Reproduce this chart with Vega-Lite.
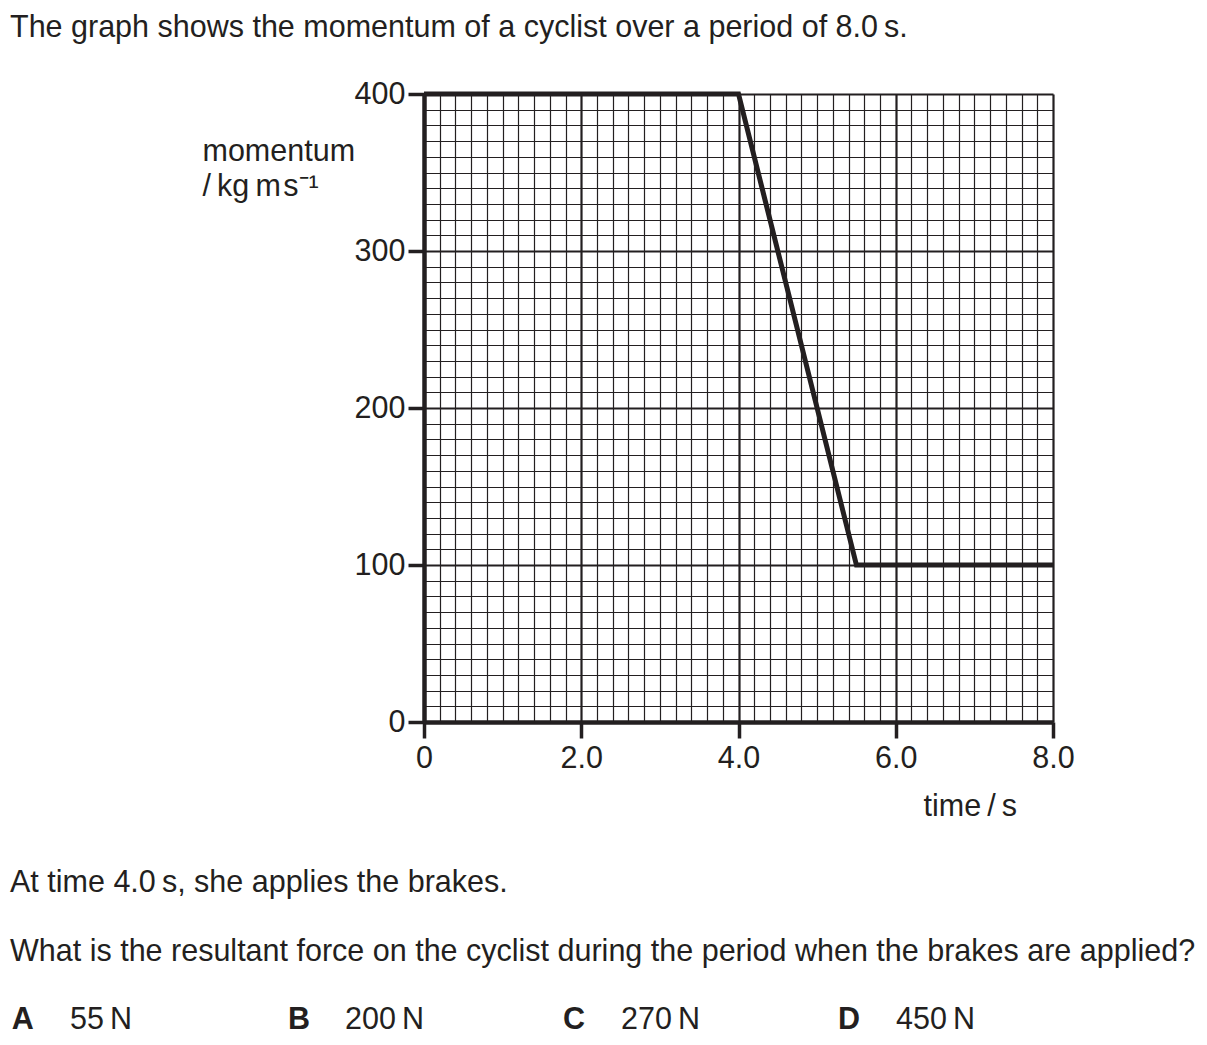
{
  "$schema": "https://vega.github.io/schema/vega-lite/v6.json",
  "autosize": "none",
  "width": 629,
  "height": 628,
  "padding": {"left": 424, "top": 94, "right": 154, "bottom": 323},
  "background": "white",
  "config": {
    "font": "Liberation Sans",
    "view": {"stroke": null},
    "text": {"font": "Liberation Sans", "fontSize": 30.5, "color": "#231f20"}
  },
  "layer": [
    {
      "data": {"values": [
        {"time": 0, "momentum": 400},
        {"time": 4.0, "momentum": 400},
        {"time": 5.5, "momentum": 100},
        {"time": 8.0, "momentum": 100}
      ]},
      "mark": {"type": "line", "color": "#231f20", "strokeWidth": 5, "strokeJoin": "miter", "clip": false},
      "encoding": {
        "x": {
          "field": "time", "type": "quantitative",
          "scale": {"domain": [0, 8], "nice": false, "zero": false},
          "axis": {
            "values": [0,0.2,0.4,0.6,0.8,1,1.2,1.4,1.6,1.8,2,2.2,2.4,2.6,2.8,3,3.2,3.4,3.6,3.8,4,4.2,4.4,4.6,4.8,5,5.2,5.4,5.6,5.8,6,6.2,6.4,6.6,6.8,7,7.2,7.4,7.6,7.8,8],
            "tickCount": 100,
            "labelExpr": "(datum.value % 2 === 0) ? (datum.value === 0 ? '0' : format(datum.value, '.1f')) : ''",
            "grid": true,
            "gridColor": "#231f20",
            "gridOpacity": 1,
            "gridWidth": {"condition": {"test": "datum.value % 2 === 0", "value": 2.2}, "value": 1.2},
            "tickColor": "#231f20",
            "tickSize": 16,
            "tickWidth": 3.5,
            "tickOpacity": {"condition": {"test": "datum.value % 2 === 0", "value": 1}, "value": 0},
            "domainColor": "#231f20",
            "domainWidth": 4.5,
            "labelFont": "Liberation Sans",
            "labelFontSize": 30.5,
            "labelColor": "#231f20",
            "labelPadding": 5,
            "labelFlush": false,
            "labelOverlap": false,
            "title": "time\u2009/\u2009s",
            "titleFont": "Liberation Sans",
            "titleFontSize": 30.5,
            "titleFontWeight": "normal",
            "titleColor": "#231f20",
            "titleAlign": "left",
            "titleBaseline": "alphabetic",
            "titleAnchor": null,
            "titleX": 499,
            "titleY": 93
          }
        },
        "y": {
          "field": "momentum", "type": "quantitative",
          "scale": {"domain": [0, 400], "nice": false},
          "axis": {
            "values": [0,10,20,30,40,50,60,70,80,90,100,110,120,130,140,150,160,170,180,190,200,210,220,230,240,250,260,270,280,290,300,310,320,330,340,350,360,370,380,390,400],
            "tickCount": 100,
            "labelExpr": "(datum.value % 100 === 0) ? format(datum.value, 'd') : ''",
            "grid": true,
            "gridColor": "#231f20",
            "gridOpacity": 1,
            "gridWidth": {"condition": {"test": "datum.value % 100 === 0", "value": 2.2}, "value": 1.2},
            "tickColor": "#231f20",
            "tickSize": 16,
            "tickWidth": 3.5,
            "tickOpacity": {"condition": {"test": "datum.value % 100 === 0", "value": 1}, "value": 0},
            "domainColor": "#231f20",
            "domainWidth": 4.5,
            "labelFont": "Liberation Sans",
            "labelFontSize": 30.5,
            "labelColor": "#231f20",
            "labelPadding": 3,
            "labelFlush": false,
            "labelOverlap": false,
            "title": ["momentum", "/\u2009kg\u2009m\u200as\u207b\u00b9"],
            "titleFont": "Liberation Sans",
            "titleFontSize": 30.5,
            "titleFontWeight": "normal",
            "titleColor": "#231f20",
            "titleAngle": 0,
            "titleAlign": "left",
            "titleBaseline": "alphabetic",
            "titleAnchor": null,
            "titleLineHeight": 35,
            "titleX": -222,
            "titleY": 66
          }
        }
      }
    },
    {
      "data": {"values": [{"label": "The graph shows the momentum of a cyclist over a period of 8.0\u2009s."}]},
      "mark": {"type": "text", "align": "left", "baseline": "alphabetic"},
      "encoding": {"text": {"field": "label"}, "x": {"datum": -5.2655}, "y": {"datum": 436.6}}
    },
    {
      "data": {"values": [{"label": "At time 4.0\u2009s, she applies the brakes."}]},
      "mark": {"type": "text", "align": "left", "baseline": "alphabetic"},
      "encoding": {"text": {"field": "label"}, "x": {"datum": -5.2655}, "y": {"datum": -108.3}}
    },
    {
      "data": {"values": [{"label": "What is the resultant force on the cyclist during the period when the brakes are applied?"}]},
      "mark": {"type": "text", "align": "left", "baseline": "alphabetic"},
      "encoding": {"text": {"field": "label"}, "x": {"datum": -5.2655}, "y": {"datum": -152.2}}
    },
    {
      "data": {"values": [{"label": "A"}]},
      "mark": {"type": "text", "align": "left", "baseline": "alphabetic", "fontWeight": "bold"},
      "encoding": {"text": {"field": "label"}, "x": {"datum": -5.243}, "y": {"datum": -195.5}}
    },
    {
      "data": {"values": [{"label": "B"}]},
      "mark": {"type": "text", "align": "left", "baseline": "alphabetic", "fontWeight": "bold"},
      "encoding": {"text": {"field": "label"}, "x": {"datum": -1.730}, "y": {"datum": -195.5}}
    },
    {
      "data": {"values": [{"label": "C"}]},
      "mark": {"type": "text", "align": "left", "baseline": "alphabetic", "fontWeight": "bold"},
      "encoding": {"text": {"field": "label"}, "x": {"datum": 1.768}, "y": {"datum": -195.5}}
    },
    {
      "data": {"values": [{"label": "D"}]},
      "mark": {"type": "text", "align": "left", "baseline": "alphabetic", "fontWeight": "bold"},
      "encoding": {"text": {"field": "label"}, "x": {"datum": 5.266}, "y": {"datum": -195.5}}
    },
    {
      "data": {"values": [{"label": "55\u2009N"}]},
      "mark": {"type": "text", "align": "left", "baseline": "alphabetic"},
      "encoding": {"text": {"field": "label"}, "x": {"datum": -4.502}, "y": {"datum": -195.5}}
    },
    {
      "data": {"values": [{"label": "200\u2009N"}]},
      "mark": {"type": "text", "align": "left", "baseline": "alphabetic"},
      "encoding": {"text": {"field": "label"}, "x": {"datum": -1.005}, "y": {"datum": -195.5}}
    },
    {
      "data": {"values": [{"label": "270\u2009N"}]},
      "mark": {"type": "text", "align": "left", "baseline": "alphabetic"},
      "encoding": {"text": {"field": "label"}, "x": {"datum": 2.506}, "y": {"datum": -195.5}}
    },
    {
      "data": {"values": [{"label": "450\u2009N"}]},
      "mark": {"type": "text", "align": "left", "baseline": "alphabetic"},
      "encoding": {"text": {"field": "label"}, "x": {"datum": 6.003}, "y": {"datum": -195.5}}
    }
  ]
}
